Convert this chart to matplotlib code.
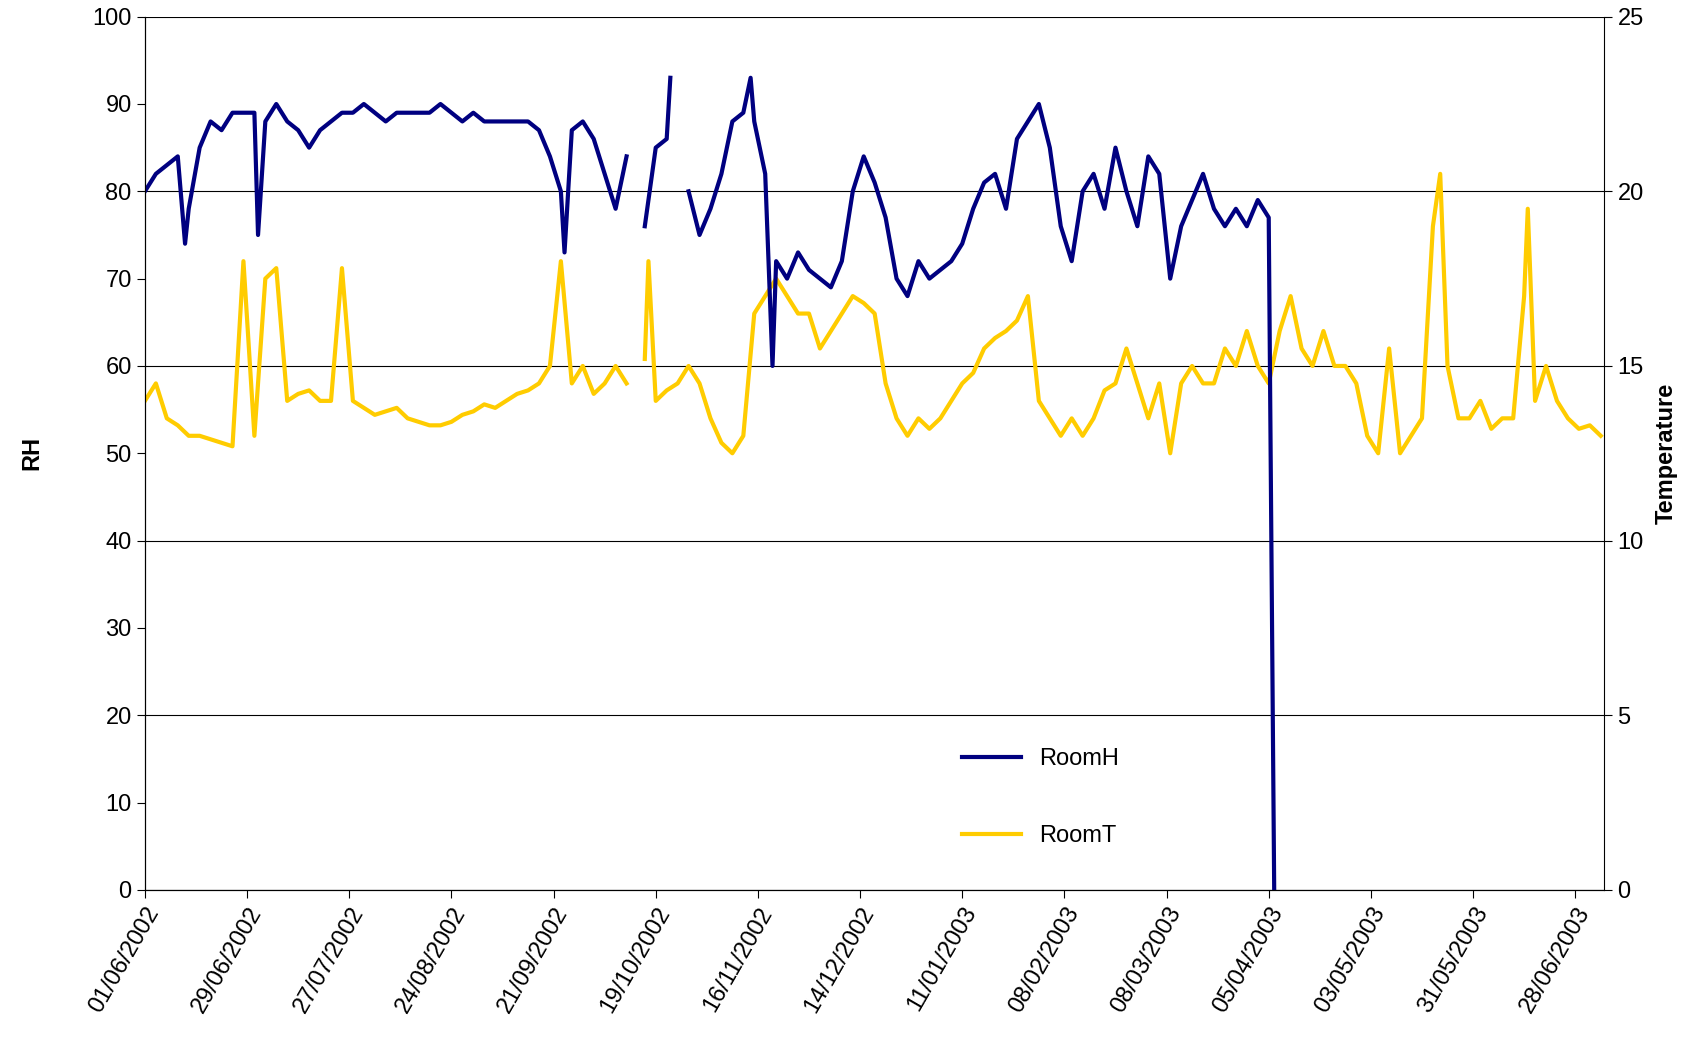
import matplotlib
matplotlib.use("Agg")
import matplotlib.pyplot as plt
import matplotlib.dates as mdates
import numpy as np
import datetime as dt

plt.rcParams['font.family'] = ['Liberation Sans', 'DejaVu Sans']

start = dt.datetime(2002, 6, 1)

# RoomH (RH): day offset, value
h_days = [0, 3, 6, 9, 11, 12, 15, 18, 21, 24, 27, 30, 31, 33, 36, 39, 42, 45, 48, 51, 54, 57, 60, 63,
          66, 69, 72, 75, 78, 81, 84, 87, 90, 93, 96, 99, 102, 105, 108, 111, 114, 115, 117, 120, 123,
          126, 129, 132, 134, 137, 140, 143, 144, 146, 149, 152, 155, 158, 161, 164, 166, 167, 170, 172,
          173, 176, 179, 182, 185, 188, 191, 194, 197, 200, 203, 206, 209, 212, 215, 218, 221, 224, 227,
          230, 233, 236, 239, 242, 245, 248, 251, 254, 257, 260, 263, 266, 269, 272, 275, 278, 281, 284,
          287, 290, 293, 296, 299, 302, 305, 308, 309.5, 309.7]
h_vals = [80, 82, 83, 84, 74, 78, 85, 88, 87, 89, 89, 89, 75, 88, 90, 88, 87, 85, 87, 88, 89, 89, 90, 89,
          88, 89, 89, 89, 89, 90, 89, 88, 89, 88, 88, 88, 88, 88, 87, 84, 80, 73, 87, 88, 86,
          82, 78, 84, np.nan, 76, 85, 86, 93, np.nan, 80, 75, 78, 82, 88, 89, 93, 88, 82, 60,
          72, 70, 73, 71, 70, 69, 72, 80, 84, 81, 77, 70, 68, 72, 70, 71, 72, 74, 78,
          81, 82, 78, 86, 88, 90, 85, 76, 72, 80, 82, 78, 85, 80, 76, 84, 82, 70, 76,
          79, 82, 78, 76, 78, 76, 79, 77, 0, np.nan]

# RoomT (Temperature): day offset, value
t_days = [0, 3, 6, 9, 12, 15, 18, 21, 24, 27, 30, 33, 36, 39, 42, 45, 48, 51, 54, 57, 60, 63, 66, 69,
          72, 75, 78, 81, 84, 87, 90, 93, 96, 99, 102, 105, 108, 111, 114, 117, 120, 123, 126, 129, 132,
          134, 137, 138, 140, 143, 146, 149, 152, 155, 158, 161, 164, 167, 170, 173, 176, 179, 182, 185,
          188, 191, 194, 197, 200, 203, 206, 209, 212, 215, 218, 221, 224, 227, 230, 233, 236, 239, 242,
          245, 248, 251, 254, 257, 260, 263, 266, 269, 272, 275, 278, 281, 284, 287, 290, 293, 296, 299,
          302, 305, 308, 311, 314, 317, 320, 323, 326, 329, 332, 335, 338, 341, 344, 347, 350, 353, 355,
          357, 360, 363, 366, 369, 372, 375, 378, 379, 381, 384, 387, 390, 393, 396, 399]
t_vals = [14, 14.5, 13.5, 13.3, 13, 13, 12.9, 12.8, 12.7, 18, 13, 17.5, 17.8, 14, 14.2, 14.3, 14, 14, 17.8,
          14, 13.8, 13.6, 13.7, 13.8, 13.5, 13.4, 13.3, 13.3, 13.4, 13.6, 13.7, 13.9, 13.8, 14, 14.2,
          14.3, 14.5, 15, 18, 14.5, 15, 14.2, 14.5, 15, 14.5, np.nan, 15.2, 18, 14, 14.3, 14.5, 15, 14.5,
          13.5, 12.8, 12.5, 13, 16.5, 17, 17.5, 17, 16.5, 16.5, 15.5, 16, 16.5, 17, 16.8, 16.5, 14.5,
          13.5, 13, 13.5, 13.2, 13.5, 14, 14.5, 14.8, 15.5, 15.8, 16, 16.3, 17, 14, 13.5, 13, 13.5, 13,
          13.5, 14.3, 14.5, 15.5, 14.5, 13.5, 14.5, 12.5, 14.5, 15, 14.5, 14.5, 15.5, 15, 16, 15, 14.5,
          16, 17, 15.5, 15, 16, 15, 15, 14.5, 13, 12.5, 15.5, 12.5, 13, 13.5, 19, 20.5, 15, 13.5, 13.5,
          14, 13.2, 13.5, 13.5, 17, 19.5, 14, 15, 14, 13.5, 13.2, 13.3, 13]

h_dates = [start + dt.timedelta(days=d) for d in h_days]
t_dates = [start + dt.timedelta(days=d) for d in t_days]

fig = plt.figure(figsize=(17.05, 10.42), dpi=100)
ax = fig.add_axes([0.085, 0.146, 0.856, 0.838])
ax2 = ax.twinx()

ax.plot(h_dates, h_vals, color='#000080', lw=3, label='RoomH')
ax2.plot(t_dates, t_vals, color='#FFCC00', lw=3, label='RoomT')
ax.set_zorder(ax2.get_zorder() + 1)
ax.patch.set_visible(False)

ax.set_ylim(0, 100)
ax2.set_ylim(0, 25)
ax.set_yticks(range(0, 101, 10))
ax2.set_yticks(range(0, 26, 5))
ax.set_xlim(start, start + dt.timedelta(days=400))
ticks = [start + dt.timedelta(days=28 * i) for i in range(15)]
ax.set_xticks(ticks)
ax.xaxis.set_major_formatter(mdates.DateFormatter('%d/%m/%Y'))
plt.setp(ax.get_xticklabels(), rotation=60, ha='right', rotation_mode='anchor')
ax.tick_params(labelsize=17, direction='out', length=6)
ax2.tick_params(labelsize=17, direction='out', length=6)
ax2.yaxis.grid(True, color='black', lw=0.8)
ax2.set_axisbelow(True)
ax.set_ylabel('RH', fontsize=17, fontweight='bold', labelpad=35)
ax2.set_ylabel('Temperature', fontsize=17, fontweight='bold', labelpad=8)

for a in (ax, ax2):
    a.spines['top'].set_visible(False)
    a.spines['right'].set_visible(False)
ax2.spines['right'].set_visible(True)

h1, l1 = ax.get_legend_handles_labels()
h2, l2 = ax2.get_legend_handles_labels()
leg = ax.legend(h1 + h2, l1 + l2, loc='lower left', bbox_to_anchor=(0.545, 0.025),
                frameon=True, edgecolor='white', facecolor='white', framealpha=1,
                fontsize=17, labelspacing=2.3, handlelength=2.5, borderpad=0.9,
                borderaxespad=0)
leg.set_zorder(10)

fig.savefig('out.png')
